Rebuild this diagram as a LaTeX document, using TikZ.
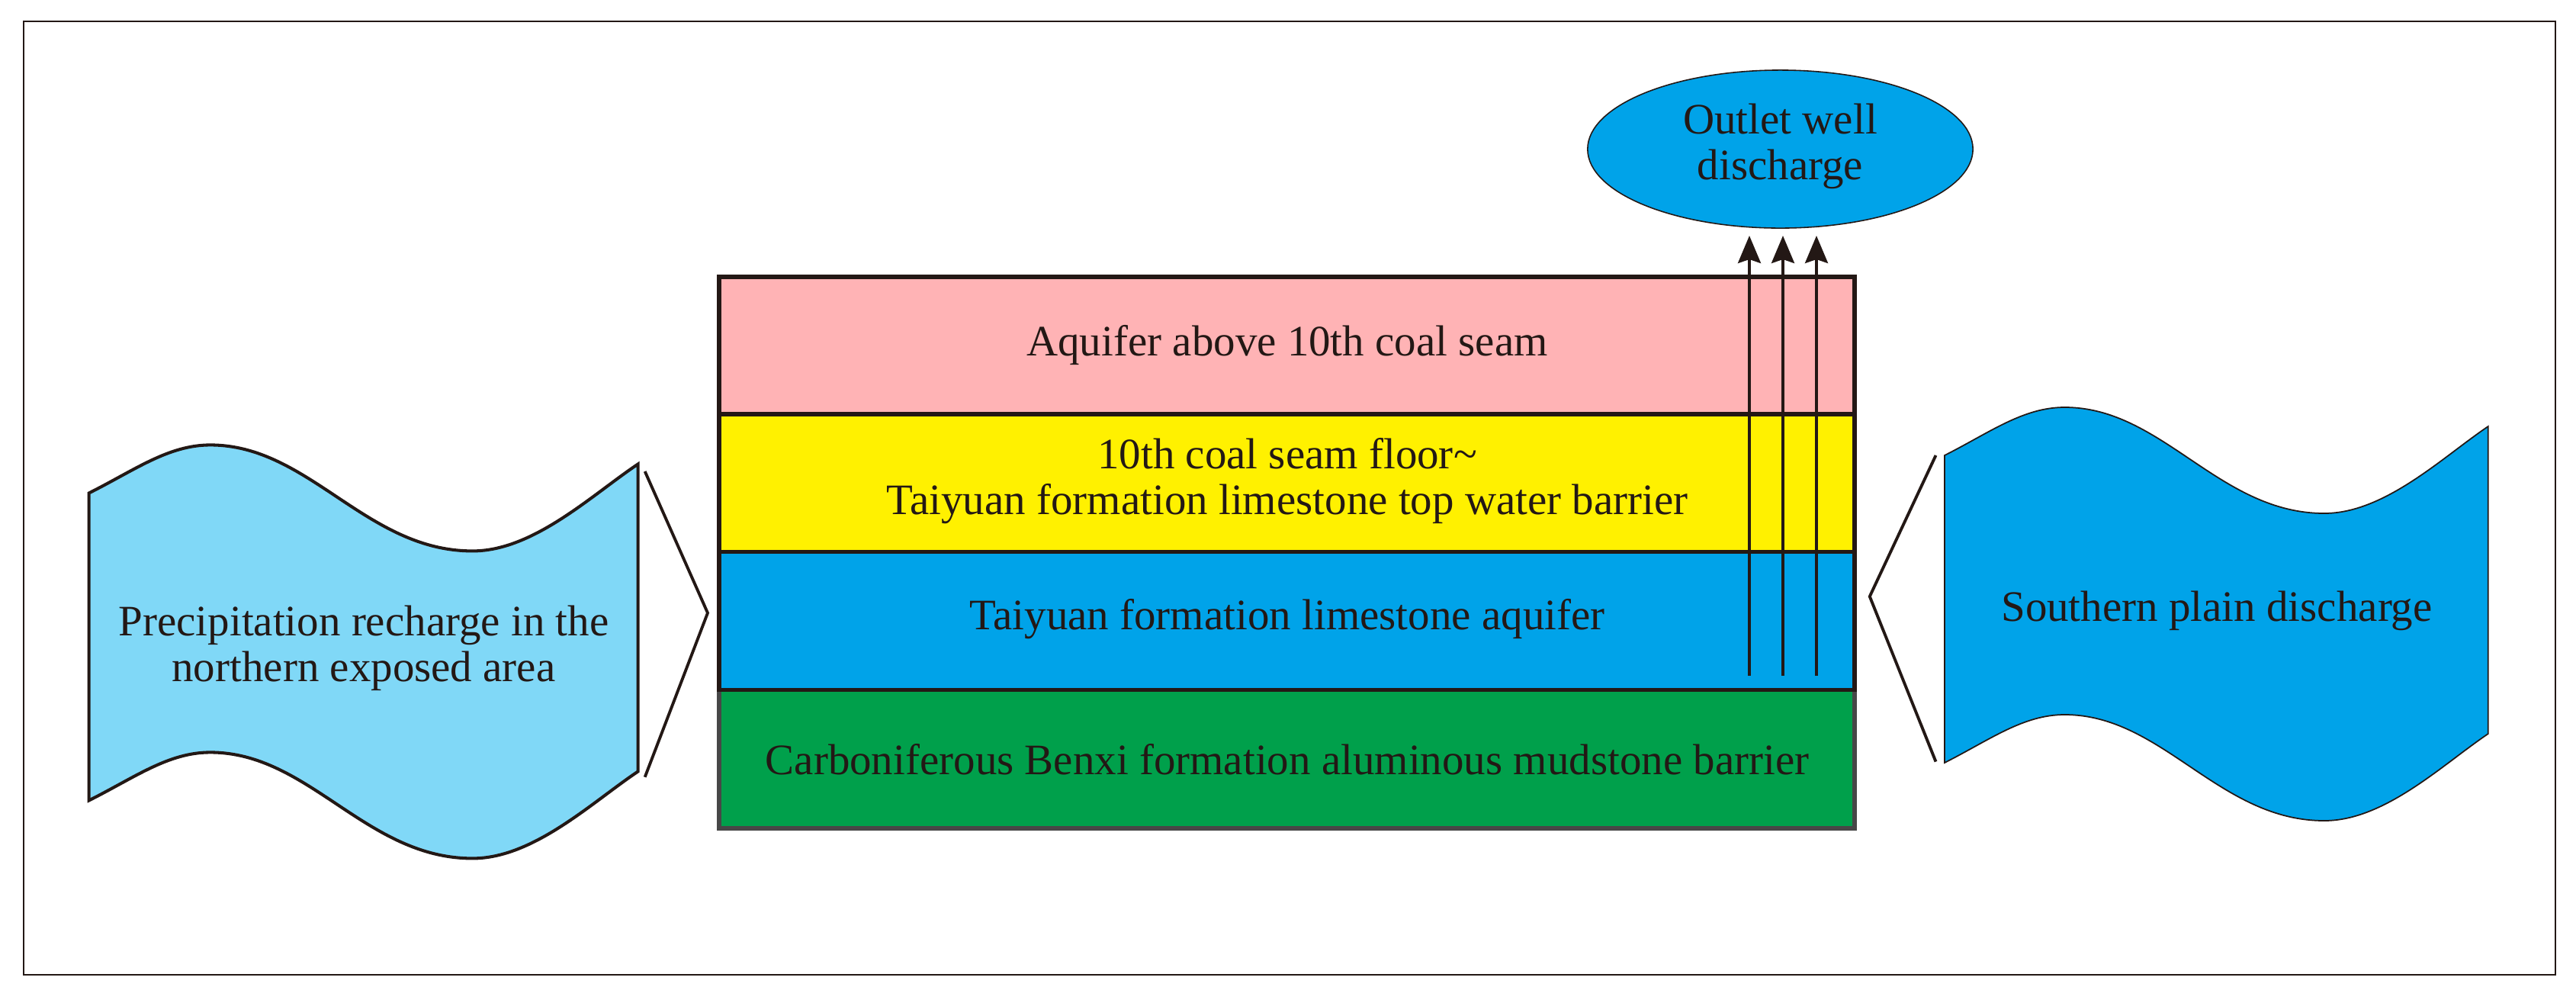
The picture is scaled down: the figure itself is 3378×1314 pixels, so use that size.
\documentclass[tikz,border=0pt]{standalone}
\usepackage{fontspec}
\setmainfont{Liberation Serif}
\usetikzlibrary{shapes.geometric,arrows.meta}
\definecolor{ink}{HTML}{231815}
\definecolor{pinkL}{HTML}{FFB3B5}
\definecolor{yellowL}{HTML}{FFF100}
\definecolor{blueL}{HTML}{00A3E9}
\definecolor{greenL}{HTML}{00A04B}
\definecolor{greenB}{HTML}{474747}
\definecolor{lightB}{HTML}{80D8F7}
\tikzset{
  txt/.style={font=\fontsize{16.2pt}{17.1pt}\selectfont, text=ink, align=center, inner sep=0pt},
  layer/.style={draw=ink, line width=1.45pt},
  chev/.style={draw=ink, line width=1.1pt, line join=miter},
  upar/.style={draw=ink, line width=1pt, -{Stealth[length=0.36cm,width=0.30cm,inset=0.05cm]}},
}
\begin{document}
\begin{tikzpicture}[x=0.01cm,y=-0.01cm]
\useasboundingbox (0,0) rectangle (3378,1314);
% outer frame
\draw[ink, line width=0.6pt] (31,28) rectangle (3351,1278);

% layers
\filldraw[fill=greenL, draw=greenB, line width=1.45pt] (943,904.7) rectangle (2432,1086);
\filldraw[layer, fill=blueL] (943,723.6) rectangle (2432,904.7);
\filldraw[layer, fill=yellowL] (943,543) rectangle (2432,723.6);
\filldraw[layer, fill=pinkL] (943,363) rectangle (2432,543);
\node[txt] (l1) at (1688,452) {Aquifer above 10th coal seam};
\node[txt] (l2) at (1688,631) {10th coal seam floor\char`\~\\Taiyuan formation limestone top water barrier};
\node[txt] (l3) at (1688,812) {Taiyuan formation limestone aquifer};
\node[txt] (l4) at (1688,996) {Carboniferous Benxi formation aluminous mudstone barrier};

% outlet well ellipse
\node[ellipse, draw=ink, line width=0.45pt, fill=blueL, minimum width=5.05cm, minimum height=2.07cm, inner sep=0pt] (ell) at (2334.5,195.5) {};
\node[txt] (ellt) at (2334.5,192) {Outlet well\\discharge};

% upward arrows
\coordinate (a1s) at (2294,886); \coordinate (a1e) at (2294,309);
\coordinate (a2s) at (2338,886); \coordinate (a2e) at (2338,309);
\coordinate (a3s) at (2382,886); \coordinate (a3e) at (2382,309);
\draw[upar] (a1s) -- (a1e);
\draw[upar] (a2s) -- (a2e);
\draw[upar] (a3s) -- (a3e);

% left wave shape
\begin{scope}[shift={(116.7,646.4)}]
\filldraw[fill=lightB, draw=ink, line width=1.15pt]
  (0,0) .. controls (60,-30) and (104,-63) .. (159,-63)
  .. controls (289,-63) and (363,76) .. (503,76)
  .. controls (583,76) and (660,2) .. (720,-38)
  -- (720,365)
  .. controls (660,405) and (583,479) .. (503,479)
  .. controls (363,479) and (289,340) .. (159,340)
  .. controls (104,340) and (60,373) .. (0,403) -- cycle;
\end{scope}
\node[txt] (lt) at (477,850) {Precipitation recharge in the\\northern exposed area};
\draw[chev] (845.7,618) -- (928,803.6) -- (845.7,1018.75);

% right wave shape
\begin{scope}[shift={(2550,597)}, xscale=0.99]
\filldraw[fill=blueL, draw=ink, line width=0.5pt]
  (0,0) .. controls (60,-30) and (104,-63) .. (159,-63)
  .. controls (289,-63) and (363,76) .. (503,76)
  .. controls (583,76) and (660,2) .. (720,-38)
  -- (720,365)
  .. controls (660,405) and (583,479) .. (503,479)
  .. controls (363,479) and (289,340) .. (159,340)
  .. controls (104,340) and (60,373) .. (0,403) -- cycle;
\end{scope}
\node[txt] (rt) at (2907,801) {Southern plain discharge};
\draw[chev] (2538.5,597) -- (2451.8,782) -- (2538.5,998.6);
\end{tikzpicture}
\end{document}
